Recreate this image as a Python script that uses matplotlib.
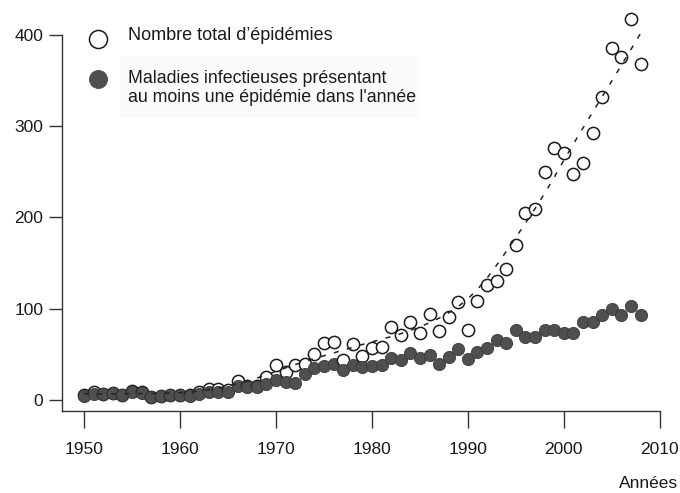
import matplotlib
matplotlib.use("Agg")
import matplotlib.pyplot as plt
import numpy as np

# years 1950-2008
years = np.arange(1950, 2009)

total_epidemics = [
    5, 9, 7, 8, 6, 10, 9, 3, 4, 6,            # 1950-1959
    6, 5, 9, 12, 12, 11, 21, 15, 15, 25,      # 1960-1969
    38, 31, 38, 40, 50, 63, 64, 44, 61, 48,   # 1970-1979
    57, 58, 80, 71, 86, 73, 94, 76, 91, 107,  # 1980-1989
    77, 108, 126, 130, 144, 170, 205, 209, 250, 276,  # 1990-1999
    271, 248, 260, 292, 332, 386, 376, 417, 368,      # 2000-2008
]

diseases_with_outbreak = [
    4, 7, 7, 8, 5, 9, 8, 3, 4, 5,             # 1950-1959
    5, 4, 7, 9, 9, 9, 15, 14, 14, 18,         # 1960-1969
    22, 20, 19, 29, 35, 37, 40, 33, 38, 36,   # 1970-1979
    37, 38, 46, 44, 52, 46, 49, 40, 47, 56,   # 1980-1989
    45, 53, 57, 66, 62, 77, 69, 69, 77, 77,   # 1990-1999
    73, 73, 85, 85, 93, 100, 93, 103, 93,     # 2000-2008
]

x_ticks = [1950, 1960, 1970, 1980, 1990, 2000, 2010]
y_ticks = [0, 100, 200, 300, 400]

label_total = "Nombre total d\u2019épidémies"
label_diseases = "Maladies infectieuses présentant\nau moins une épidémie dans l'année"
x_label = "Années"

plt.rcParams["font.family"] = ["Liberation Sans", "DejaVu Sans"]


def lowess(x, y, frac=0.3):
    # local linear smoother with tricube weights
    x = np.asarray(x, float)
    y = np.asarray(y, float)
    n = len(x)
    r = int(np.ceil(frac * n))
    fit = np.empty(n)
    for i, xi in enumerate(x):
        d = np.abs(x - xi)
        h = np.sort(d)[r]
        w = np.clip(1 - (d / h) ** 3, 0, 1) ** 3
        A = np.vstack([np.ones(n), x - xi]).T
        AtW = A.T * w
        beta = np.linalg.solve(AtW @ A, AtW @ y)
        fit[i] = beta[0]
    return fit


def main():
    fig = plt.figure(figsize=(6.8, 4.93), dpi=100)

    # legend layer drawn by hand, behind the plot
    leg = fig.add_axes([0, 0, 1, 1], facecolor="none", zorder=0)
    leg.set_xlim(0, 680)
    leg.set_ylim(493, 0)
    leg.axis("off")
    leg.add_patch(plt.Rectangle((120, 57), 298, 60, color="#fafafa", zorder=0))
    dark = "#4f4f4f"
    leg.plot([98], [39], "o", ms=13, mfc="white", mec="#1a1a1a", mew=1.1)
    leg.plot([98], [79], "o", ms=13, mfc=dark, mec=dark, mew=0.6)
    leg.text(128, 36, label_total, ha="left", va="center", fontsize=13,
             color="#1a1a1a")
    leg.text(128, 88, label_diseases, ha="left", va="center", fontsize=12.8,
             color="#1a1a1a", linespacing=1.12)
    leg.text(678, 484, x_label, ha="right", va="center", fontsize=12.5,
             color="#1a1a1a")

    ax = fig.add_axes([62 / 680, 82 / 493, 617 / 680, 399 / 493], zorder=1)
    ax.patch.set_visible(False)

    for i, yr in enumerate(years):
        ax.plot(yr, total_epidemics[i], "o", ms=8.8, mfc="white", mec="#1a1a1a",
                mew=1.1, zorder=2 + 2 * i, clip_on=False)
        ax.plot(yr, diseases_with_outbreak[i], "o", ms=8.8, mfc=dark, mec="#3a3a3a",
                mew=0.6, zorder=3 + 2 * i, clip_on=False)

    trend = lowess(years, total_epidemics, frac=0.3)
    ax.plot(years, trend, color="#222222", lw=1.1, ls=(0, (3.3, 5.5)),
            zorder=500)

    ax.set_xlim(1947.7, 2012)
    ax.set_ylim(-12, 425)
    ax.set_xticks(x_ticks)
    ax.set_yticks(y_ticks)
    ax.spines["top"].set_visible(False)
    ax.spines["right"].set_visible(False)
    ax.spines["left"].set_bounds(-12, 400)
    ax.spines["bottom"].set_bounds(1947.7, 2010)
    for s in ("left", "bottom"):
        ax.spines[s].set_linewidth(1.0)
        ax.spines[s].set_color("#333333")
    ax.tick_params(axis="x", direction="out", length=12, width=1.0,
                   color="#333333", pad=10, labelsize=12.5, labelcolor="#1a1a1a")
    ax.tick_params(axis="y", direction="out", length=9.5, width=1.0,
                   color="#333333", pad=4, labelsize=12.5, labelcolor="#1a1a1a")

    plt.savefig("out.png", dpi=100)
    plt.close()


if __name__ == "__main__":
    main()
